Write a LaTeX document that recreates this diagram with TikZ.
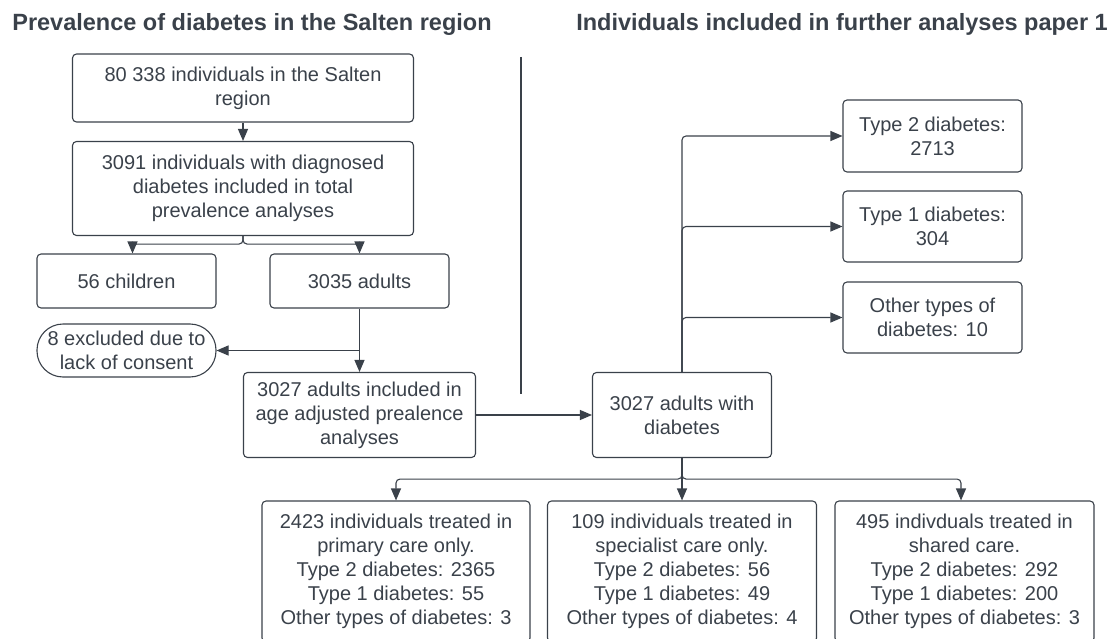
\documentclass[tikz,border=0pt]{standalone}
\usepackage{fontspec}
\setmainfont{Liberation Sans}
\usetikzlibrary{arrows.meta}
\definecolor{ink}{HTML}{3A414A}

\begin{document}
\begin{tikzpicture}[x=1pt,y=-1pt]
        \tikzset{
            box/.style={draw=ink, line width=1.1pt, rounded corners=4pt, text=ink,
              align=center, inner sep=0pt, font=\fontsize{20}{24}\selectfont},
            heading/.style={text=ink, font=\fontsize{23.5}{28}\selectfont\bfseries},
            link/.style={draw=ink, line width=1.1pt, rounded corners=4pt,
              -{Triangle[length=12pt,width=10pt]}}
          }
        \useasboundingbox (0,0) rectangle (1115,639);

        \node[heading] (ttlleft) at (252,24) {Prevalence of diabetes in the Salten region};
        \node[heading] (ttlright) at (842,24) {Individuals included in further analyses paper 1};
        \draw[ink, line width=1.8pt] (521,57) -- (521,394);

        % left part
        \node[box, minimum width=341pt, minimum height=68pt] (region) at (243,88)
          {80 338 individuals in the Salten\\region};
        \node[box, minimum width=341pt, minimum height=94pt] (diagnosed) at (243,188.5)
          {3091 individuals with diagnosed\\diabetes included in total\\prevalence analyses};
        \node[box, minimum width=179pt, minimum height=54pt] (children) at (126.5,281) {56 children};
        \node[box, minimum width=179pt, minimum height=54pt] (adults) at (359.5,281) {3035 adults};
        \node[box, rounded corners=26pt, minimum width=179pt, minimum height=53pt] (excluded) at (126.5,350.5)
          {8 excluded due to\\lack of consent};
        \node[box, minimum width=232pt, minimum height=85pt] (included) at (359.5,415)
          {3027 adults included in\\age adjusted prealence\\analyses};

        % right part
        \node[box, minimum width=179pt, minimum height=85pt] (withdm) at (682,415)
          {3027 adults with\\diabetes};
        \node[box, minimum width=179pt, minimum height=72pt] (typetwo) at (932.5,136)
          {Type 2 diabetes:\\2713};
        \node[box, minimum width=179pt, minimum height=71pt] (typeone) at (932.5,226.5)
          {Type 1 diabetes:\\304};
        \node[box, minimum width=179pt, minimum height=71pt] (othertype) at (932.5,317.5)
          {Other types of\\diabetes: 10};
        \node[box, minimum width=268pt, minimum height=141pt] (primary) at (396,571.5)
          {2423 individuals treated in\\primary care only.\\Type 2 diabetes: 2365\\Type 1 diabetes: 55\\Other types of diabetes: 3};
        \node[box, minimum width=269pt, minimum height=141pt] (specialist) at (682,571.5)
          {109 individuals treated in\\specialist care only.\\Type 2 diabetes: 56\\Type 1 diabetes: 49\\Other types of diabetes: 4};
        \node[box, minimum width=259pt, minimum height=141pt] (shared) at (964.5,571.5)
          {495 indivduals treated in\\shared care.\\Type 2 diabetes: 292\\Type 1 diabetes: 200\\Other types of diabetes: 3};

        \draw[link] (region) -- (diagnosed);
        \draw[link] (diagnosed.south) -- ++(0,8) -| ([xshift=6pt]children.north);
        \draw[link] (diagnosed.south) -- ++(0,8) -| (adults.north);
        \draw[link] (adults) -- (included);
        \draw[link] (adults.south |- excluded.east) -- (excluded.east);
        \draw[link] (included) -- (withdm);
        \draw[link] (withdm.north) |- (typetwo.west);
        \draw[link] (withdm.north) |- (typeone.west);
        \draw[link] (withdm.north) |- (othertype.west);
        \draw[link] (withdm.south) -- ++(0,21) -| (primary.north);
        \draw[link] (withdm.south) -- ++(0,21) -| ([xshift=-3.5pt]shared.north);
        \draw[link] (withdm) -- (specialist);
    \end{tikzpicture}
\end{document}
